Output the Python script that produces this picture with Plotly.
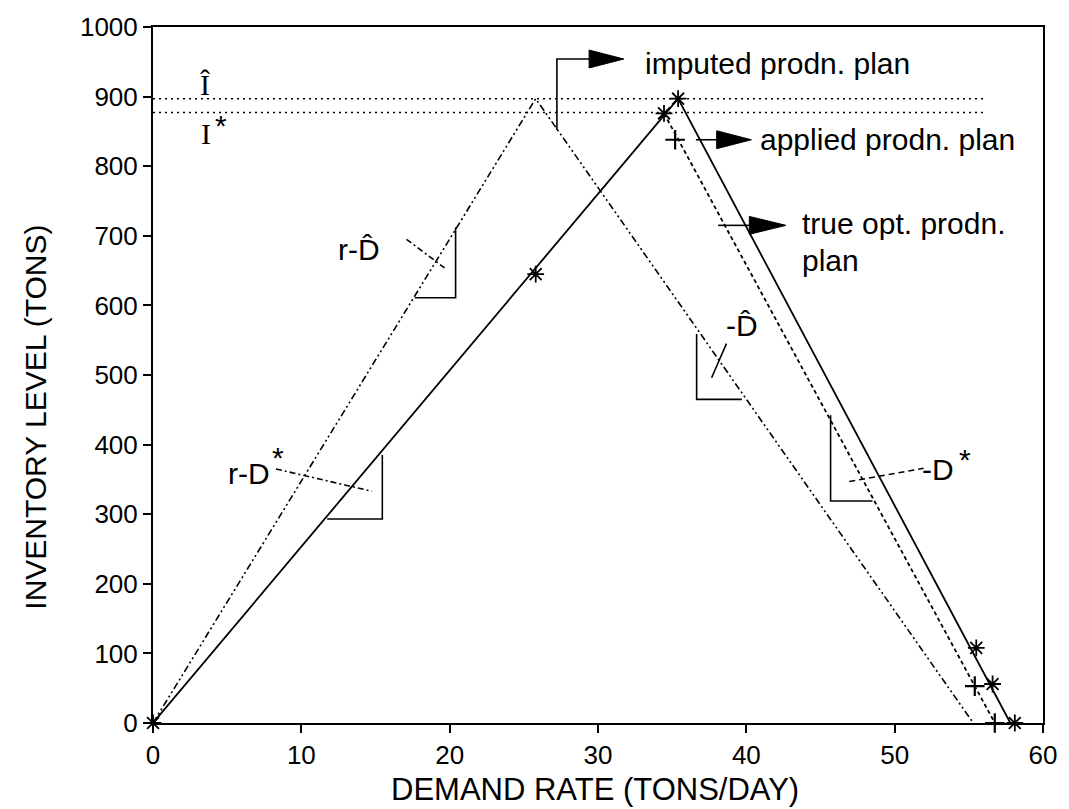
import plotly.graph_objects as go

# ---------------- data ----------------
imputed_x = [0, 25.8, 55.3]
imputed_y = [0, 897, 0]

true_x = [0, 35.4, 57.8]
true_y = [0, 897, 0]

applied_x = [34.45, 56.75]
applied_y = [876, 0]

star_x = [0, 25.8, 34.45, 35.4, 55.5, 56.6, 58.1]
star_y = [0, 645, 876, 897, 108, 56, 0]

plus_x = [35.2, 55.4, 56.75]
plus_y = [838, 53, 0]

I_hat = 897
I_star = 877
ref_x_range = [0, 56.1]

x_ticks = [0, 10, 20, 30, 40, 50, 60]
y_ticks = [0, 100, 200, 300, 400, 500, 600, 700, 800, 900, 1000]

# ---------------- layout constants ----------------
W, H = 1069, 809
ML, MR, MT, MB = 153, 19, 23, 86
PX_X = (W - ML - MR) / 60.0
PX_Y = (H - MT - MB) / 1000.0

SANS = "Liberation Sans, Arial, Helvetica, sans-serif"
SERIF = "Liberation Serif, Times New Roman, serif"

fig = go.Figure()

fig.add_trace(go.Scatter(x=imputed_x, y=imputed_y, mode="lines",
                         line=dict(color="black", width=1.6, dash="7px,3px,2px,3px,2px,3px"),
                         showlegend=False, hoverinfo="skip"))
fig.add_trace(go.Scatter(x=true_x, y=true_y, mode="lines",
                         line=dict(color="black", width=1.8),
                         showlegend=False, hoverinfo="skip"))
fig.add_trace(go.Scatter(x=applied_x, y=applied_y, mode="lines",
                         line=dict(color="black", width=1.8, dash="4px,3px"),
                         showlegend=False, hoverinfo="skip"))
fig.add_trace(go.Scatter(x=ref_x_range, y=[I_hat, I_hat], mode="lines",
                         line=dict(color="black", width=1.5, dash="2px,4px"),
                         showlegend=False, hoverinfo="skip"))
fig.add_trace(go.Scatter(x=ref_x_range, y=[I_star, I_star], mode="lines",
                         line=dict(color="black", width=1.5, dash="2px,4px"),
                         showlegend=False, hoverinfo="skip"))
fig.add_trace(go.Scatter(x=star_x, y=star_y, mode="markers", cliponaxis=False,
                         marker=dict(symbol="asterisk-open", size=14, color="black",
                                     line=dict(color="black", width=1.8)),
                         showlegend=False, hoverinfo="skip"))
fig.add_trace(go.Scatter(x=plus_x, y=plus_y, mode="markers", cliponaxis=False,
                         marker=dict(symbol="cross-thin-open", size=14, color="black",
                                     line=dict(color="black", width=2.2)),
                         showlegend=False, hoverinfo="skip"))

shapes = []


def seg(x0, y0, x1, y1, dash="solid", width=1.6):
    shapes.append(dict(type="line", xref="x", yref="y", x0=x0, y0=y0, x1=x1, y1=y1,
                       line=dict(color="black", width=width, dash=dash)))


def poly(points, width=1.6):
    path = "M " + " L ".join(f"{px},{py}" for px, py in points)
    shapes.append(dict(type="path", xref="x", yref="y", path=path,
                       line=dict(color="black", width=width)))


def head(x_base, y, length_px=35, half_px=9):
    xt = x_base + length_px / PX_X
    dy = half_px / PX_Y
    path = f"M {x_base},{y + dy} L {xt},{y} L {x_base},{y - dy} Z"
    shapes.append(dict(type="path", xref="x", yref="y", path=path,
                       fillcolor="black", line=dict(color="black", width=1)))


# slope triangles
poly([(17.65, 611), (20.4, 611), (20.4, 712)])
poly([(11.74, 293), (15.46, 293), (15.46, 385)])
poly([(36.65, 559), (36.65, 465), (39.7, 465)])
poly([(45.68, 442), (45.68, 319), (48.5, 319)])

# leader lines
seg(17.09, 695, 19.65, 654, dash="6px,3px,2px,3px")
seg(8.29, 365, 14.75, 333, dash="6px,3px,2px,3px")
seg(38.66, 545, 37.66, 496)
seg(46.94, 347, 51.95, 366, dash="6px,4px")

# arrows to the plan labels
poly([(27.23, 852), (27.23, 954), (29.4, 954)])
head(29.4, 954)
seg(36.6, 838, 38.0, 838)
head(38.0, 838)
seg(38.1, 715, 40.2, 715)
head(40.2, 715, length_px=37)

annotations = []


def txt(x, y, s, size=30, family=SANS, xanchor="center"):
    annotations.append(dict(x=x, y=y, xref="x", yref="y", text=s, showarrow=False,
                            xanchor=xanchor, yanchor="middle",
                            font=dict(family=family, size=size, color="black")))


txt(33.0, 947, "imputed prodn. plan", xanchor="left")
txt(40.8, 838, "applied prodn. plan", xanchor="left")
txt(43.6, 718, "true opt. prodn.", xanchor="left")
txt(43.6, 665, "plan", xanchor="left")
txt(13.9, 680, "r-D\u0302")
txt(6.44, 359, "r-D")
txt(8.4, 381, "*", size=30)
txt(52.9, 364, "-D")
txt(54.75, 379, "*", size=30)
txt(39.7, 571, "-D\u0302")
txt(3.5, 918, "\u00ce", size=30, family=SERIF)
txt(3.57, 847, "I", size=30, family=SERIF)
txt(4.6, 859, "*", size=30)

# axis titles
annotations.append(dict(x=-(ML - 35) / (W - ML - MR), y=(H - MB - 415) / (H - MT - MB),
                        xref="paper", yref="paper", text="INVENTORY LEVEL (TONS)",
                        textangle=-90, showarrow=False, xanchor="center", yanchor="middle",
                        font=dict(family="Liberation Sans Narrow, Arial Narrow, " + SANS,
                                  size=30, color="black")))
annotations.append(dict(x=(598 - ML) / (W - ML - MR), y=-(790 - (H - MB)) / (H - MT - MB),
                        xref="paper", yref="paper", text="DEMAND RATE (TONS/DAY)",
                        showarrow=False, xanchor="center", yanchor="middle",
                        font=dict(family=SANS, size=31, color="black")))

axis_common = dict(showline=True, linecolor="black", linewidth=2, mirror=True,
                   ticks="outside", ticklen=8, tickwidth=1.5, tickcolor="black",
                   showgrid=False, zeroline=False,
                   tickfont=dict(family=SANS, size=26, color="black"))

fig.update_layout(
    width=W, height=H,
    margin=dict(l=ML, r=MR, t=MT, b=MB),
    paper_bgcolor="white", plot_bgcolor="white",
    xaxis=dict(range=[0, 60], tickvals=x_ticks, ticktext=[str(v) for v in x_ticks], **axis_common),
    yaxis=dict(range=[0, 1000], tickvals=y_ticks, ticktext=[str(v) for v in y_ticks], **axis_common),
    shapes=shapes, annotations=annotations,
)

fig.write_html("out.html")
